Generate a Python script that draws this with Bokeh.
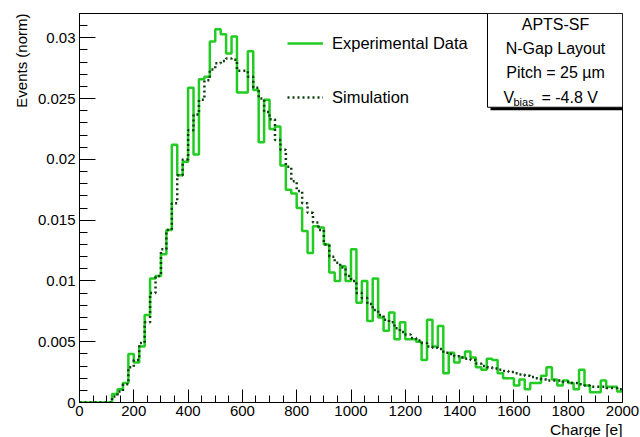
import numpy as np
from bokeh.plotting import figure
from bokeh.models import Range1d, FixedTicker, Label, Legend, LegendItem, Title
from bokeh.embed import file_html
from bokeh.resources import INLINE

FONT = "Liberation Sans"
GREEN = "#22cc22"
DKGREEN = "#0b3f0b"

# ---------------- data ----------------
bin_width = 20
x_min, x_max = 0, 2000
y_min, y_max = 0.0, 0.032

exp_values = [
    0, 0, 0, 0, 0, 0, 0.0007, 0.0011, 0.0016, 0.0040,
    0.0033, 0.0046, 0.0072, 0.0102, 0.0104, 0.0122, 0.0142, 0.0212, 0.0187, 0.0198,
    0.0259, 0.0204, 0.0266, 0.0268, 0.0297, 0.0307, 0.0303, 0.0287, 0.0301, 0.0255,
    0.0255, 0.0289, 0.0257, 0.0214, 0.0249, 0.0225, 0.0227, 0.0195, 0.0175, 0.0172,
    0.0160, 0.0141, 0.0123, 0.0145, 0.0144, 0.0130, 0.0107, 0.0100, 0.0112, 0.0100,
    0.0126, 0.0082, 0.0100, 0.0067, 0.0102, 0.0070, 0.0059, 0.0074, 0.0052, 0.0066,
    0.0052, 0.0052, 0.0050, 0.0035, 0.0068, 0.0046, 0.0063, 0.0024, 0.0041, 0.0033,
    0.0037, 0.0042, 0.0037, 0.0029, 0.0027, 0.0036, 0.0035, 0.0024, 0.0020, 0.0020,
    0.0014, 0.0019, 0.0011, 0.0016, 0.0016, 0.0022, 0.0029, 0.0019, 0.0014, 0.0018,
    0.0016, 0.0011, 0.0027, 0.0014, 0.00085, 0.00085, 0.0018, 0.0013, 0.0013, 0.0009,
]

sim_values = [
    0, 0, 0, 0, 0, 0, 0.0005, 0.0009, 0.0015, 0.0029,
    0.0035, 0.0049, 0.0066, 0.0090, 0.0104, 0.0126, 0.0142, 0.0164, 0.0187, 0.0200,
    0.0224, 0.0237, 0.0249, 0.0265, 0.0274, 0.0279, 0.0281, 0.0283, 0.0282, 0.0273,
    0.0273, 0.0268, 0.0259, 0.0250, 0.0239, 0.0233, 0.0216, 0.0208, 0.0194, 0.0182,
    0.0174, 0.0164, 0.0156, 0.0148, 0.0142, 0.0130, 0.0120, 0.0115, 0.0111, 0.0104,
    0.0100, 0.0090, 0.0086, 0.0081, 0.0076, 0.0072, 0.0068, 0.0066, 0.0061, 0.0058,
    0.0056, 0.0053, 0.0051, 0.0049, 0.0046, 0.0045, 0.0044, 0.0041, 0.0040, 0.0038,
    0.0037, 0.0036, 0.0035, 0.0032, 0.0030, 0.0029, 0.0028, 0.0027, 0.0026, 0.0025,
    0.0024, 0.0023, 0.0022, 0.0021, 0.0020, 0.0019, 0.0018, 0.0018, 0.0018, 0.0017,
    0.0016, 0.0016, 0.0015, 0.0014, 0.0013, 0.0013, 0.0013, 0.0012, 0.0012, 0.0011,
]

x_ticks = list(range(0, 2001, 200))
x_minor_ticks = list(range(0, 2001, 50))
y_ticks = [0, 0.005, 0.01, 0.015, 0.02, 0.025, 0.03]
y_tick_labels = ["0", "0.005", "0.01", "0.015", "0.02", "0.025", "0.03"]
y_minor_ticks = [round(i * 0.001, 3) for i in range(33)]

legend_labels = ["Experimental Data", "Simulation"]
box_lines = ["APTS-SF", "N-Gap Layout", "Pitch = 25 \u00b5m"]
vbias_parts = ["V", "bias", "= -4.8 V"]
x_title = "Charge [e]"
y_title = "Events (norm)"

# ---------------- layout ----------------
W, H = 640, 437
FX0, FX1 = 79, 622   # frame left/right in page pixels
FY0, FY1 = 13, 403   # frame top/bottom in page pixels


def px2x(px):
    return x_min + (px - FX0) / (FX1 - FX0) * (x_max - x_min)


def px2y(py):
    return y_min + (FY1 - py) / (FY1 - FY0) * (y_max - y_min)


p = figure(width=W, height=H, output_backend="svg", toolbar_location=None,
           x_range=Range1d(x_min, x_max), y_range=Range1d(y_min, y_max),
           min_border_left=FX0, min_border_right=W - FX1,
           min_border_top=FY0, min_border_bottom=H - FY1)
p.background_fill_color = "white"
p.border_fill_color = "white"
p.xgrid.visible = False
p.ygrid.visible = False
p.outline_line_color = "black"
p.outline_line_width = 1
p.outline_line_alpha = 1.0

p.xaxis.ticker = FixedTicker(ticks=x_ticks, minor_ticks=x_minor_ticks)
p.yaxis.ticker = FixedTicker(ticks=y_ticks, minor_ticks=y_minor_ticks)
p.yaxis.major_label_overrides = {t: s for t, s in zip(y_ticks, y_tick_labels)}

for ax in (p.xaxis, p.yaxis):
    ax.axis_line_color = "black"
    ax.major_tick_line_color = "black"
    ax.minor_tick_line_color = "black"
    ax.major_tick_out = 0
    ax.minor_tick_out = 0
    ax.major_label_text_font = FONT
    ax.major_label_text_font_size = "15px"
    ax.major_label_text_color = "black"

p.xaxis.major_tick_in = 13
p.xaxis.minor_tick_in = 7
p.xaxis.major_label_standoff = 3
p.yaxis.major_tick_in = 16
p.yaxis.minor_tick_in = 8
p.yaxis.major_label_standoff = 4

# ---------------- histograms ----------------
edges = np.arange(x_min, x_max + bin_width, bin_width)
exp_y = list(exp_values) + [exp_values[-1]]
sim_y = list(sim_values) + [sim_values[-1]]

r_exp = p.step(edges, exp_y, mode="after", line_color=GREEN, line_width=2.5)
r_sim = p.step(edges, sim_y, mode="after", line_color=DKGREEN, line_width=2.5,
               line_dash="2 3")

legend = Legend(items=[LegendItem(label=legend_labels[0], renderers=[r_exp]),
                       LegendItem(label=legend_labels[1], renderers=[r_sim])],
                location=(208, 295))
legend.border_line_color = None
legend.background_fill_alpha = 0
legend.padding = 0
legend.margin = 0
legend.spacing = 34
legend.glyph_width = 36
legend.glyph_height = 20
legend.label_height = 20
legend.label_standoff = 9
legend.label_text_font = FONT
legend.label_text_font_size = "16.5px"
legend.label_text_color = "black"
legend.label_text_baseline = "middle"
p.add_layout(legend)

# ---------------- text box ----------------
p.quad(left=[px2x(490)], right=[x_max], top=[px2y(107)], bottom=[px2y(110)],
       fill_color="black", line_color=None)
p.quad(left=[px2x(487)], right=[x_max], top=[y_max], bottom=[px2y(107)],
       fill_color="white", line_color="black", line_width=1)

cx = px2x(555)
for txt, py in zip(box_lines, [24, 48, 72]):
    p.add_layout(Label(x=cx, y=px2y(py), text=txt, text_align="center",
                       text_baseline="middle", text_font=FONT,
                       text_font_size="16px", text_color="black"))

p.add_layout(Label(x=px2x(503), y=px2y(97), text=vbias_parts[0], text_align="left",
                   text_baseline="middle", text_font=FONT, text_font_size="16px",
                   text_color="black"))
p.add_layout(Label(x=px2x(513), y=px2y(102), text=vbias_parts[1], text_align="left",
                   text_baseline="middle", text_font=FONT, text_font_size="11px",
                   text_color="black"))
p.add_layout(Label(x=px2x(541), y=px2y(97), text=vbias_parts[2], text_align="left",
                   text_baseline="middle", text_font=FONT, text_font_size="16px",
                   text_color="black"))

# ---------------- axis titles ----------------
p.add_layout(Title(text=x_title, align="right", text_font=FONT,
                   text_font_size="15.5px", text_font_style="normal",
                   text_color="black", standoff=0), "below")
p.add_layout(Title(text=y_title, align="right", text_font=FONT,
                   text_font_size="15px", text_font_style="normal",
                   text_color="black", standoff=10), "left")

open("out.html", "w").write(file_html(p, INLINE))
